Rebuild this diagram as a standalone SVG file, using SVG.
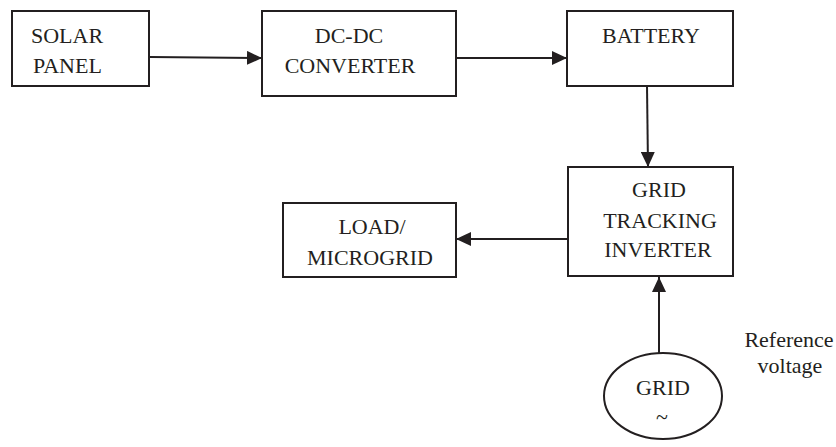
<svg xmlns="http://www.w3.org/2000/svg" width="836" height="447" viewBox="0 0 836 447">
<style>
.box{fill:#fff;stroke:#231f20;stroke-width:2}
.ln{fill:none;stroke:#231f20;stroke-width:2}
text{font-size:22px;fill:#231f20}
.c{text-anchor:middle}
</style>
<defs>
<marker id="ah" markerWidth="16" markerHeight="14" refX="15" refY="7" orient="auto" markerUnits="userSpaceOnUse">
<path d="M0,0 L15,7 L0,14 Z" fill="#231f20"/>
</marker>
</defs>
<rect width="836" height="447" fill="#fff"/>
<g id="connectors">
<line class="ln" x1="150" y1="57" x2="262" y2="58" marker-end="url(#ah)"/>
<line class="ln" x1="456" y1="58" x2="567" y2="58" marker-end="url(#ah)"/>
<line class="ln" x1="647" y1="86" x2="648" y2="167" marker-end="url(#ah)"/>
<line class="ln" x1="568" y1="239" x2="456" y2="239" marker-end="url(#ah)"/>
<line class="ln" x1="659" y1="353" x2="659" y2="277" marker-end="url(#ah)"/>
</g>
<g font-family="'Liberation Serif', 'Times New Roman', Times, serif">
<g id="solar">
<rect class="box" x="12" y="11" width="137" height="75"/>
<text x="31" y="43">SOLAR</text>
<text x="33" y="73">PANEL</text>
</g>
<g id="dcdc">
<rect class="box" x="262" y="11" width="194" height="85"/>
<text class="c" x="349" y="43">DC-DC</text>
<text class="c" x="350" y="73">CONVERTER</text>
</g>
<g id="battery">
<rect class="box" x="567" y="11" width="166" height="75"/>
<text class="c" x="651" y="43">BATTERY</text>
</g>
<g id="inverter">
<rect class="box" x="568" y="167" width="165" height="109"/>
<text class="c" x="659" y="197">GRID</text>
<text class="c" x="660" y="228">TRACKING</text>
<text class="c" x="658" y="257">INVERTER</text>
</g>
<g id="load">
<rect class="box" x="283" y="203" width="173" height="74"/>
<text class="c" x="372" y="234">LOAD/</text>
<text class="c" x="370" y="265">MICROGRID</text>
</g>
<g id="grid">
<ellipse class="box" cx="663" cy="396" rx="59" ry="43"/>
<text class="c" x="663" y="395">GRID</text>
<text class="c" x="662" y="424">~</text>
</g>
<g id="label">
<text class="c" x="789" y="347">Reference</text>
<text class="c" x="790" y="373">voltage</text>
</g>
</g>
</svg>
